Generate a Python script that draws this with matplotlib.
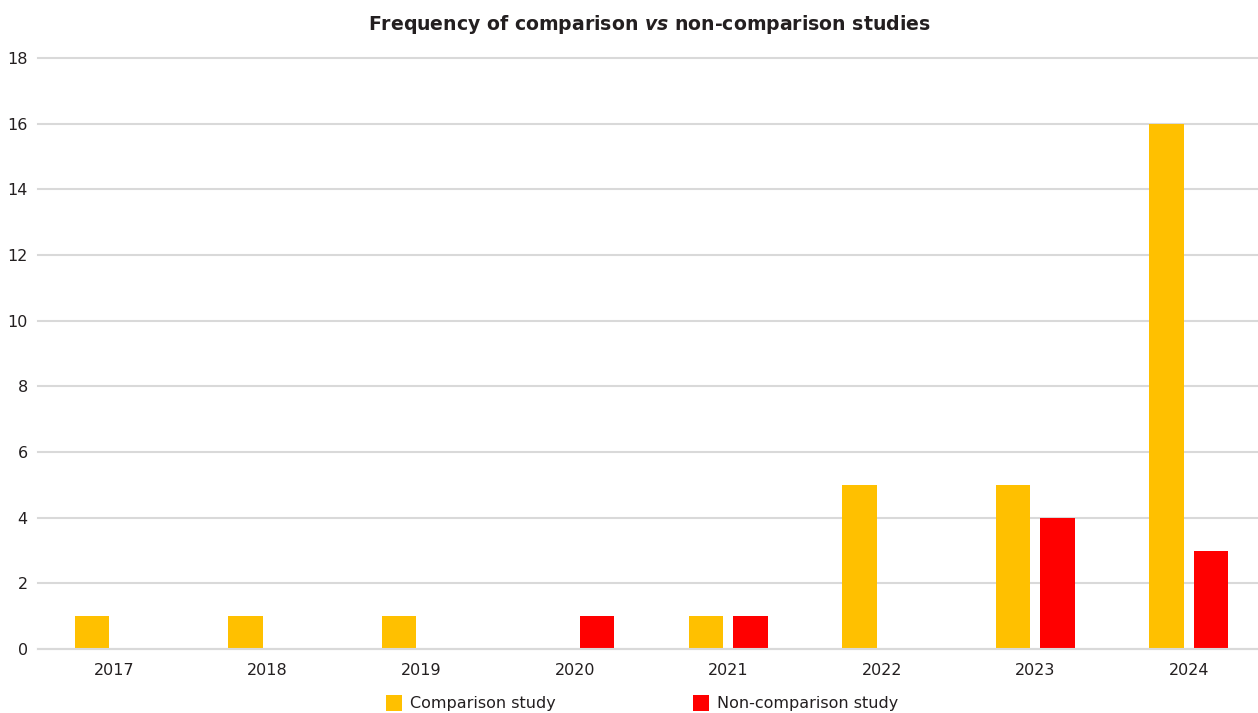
import matplotlib
matplotlib.use("Agg")
import matplotlib.pyplot as plt
import numpy as np

years = ["2017", "2018", "2019", "2020", "2021", "2022", "2023", "2024"]
comparison = [1, 1, 1, 0, 1, 5, 5, 16]
non_comparison = [0, 0, 0, 1, 1, 0, 4, 3]
series_labels = ["Comparison study", "Non-comparison study"]
y_ticks = [0, 2, 4, 6, 8, 10, 12, 14, 16, 18]

plt.rcParams["font.family"] = "DejaVu Sans"
plt.rcParams["mathtext.fontset"] = "custom"
plt.rcParams["mathtext.it"] = "DejaVu Sans:bold:italic"
plt.rcParams["mathtext.rm"] = "DejaVu Sans:bold"

W, H = 1258, 713
fig = plt.figure(figsize=(W / 100, H / 100), dpi=100)
# plot area runs slightly past the right edge of the canvas
ax = fig.add_axes([37.5 / W, 1 - 649 / H, (1265.5 - 37.5) / W, (649 - 58) / H])

text_color = "#231F20"
x = np.arange(len(years))
bw = 0.226
ax.bar(x - 0.145, comparison, width=bw, color="#FFC000", label=series_labels[0], zorder=3)
ax.bar(x + 0.145, non_comparison, width=bw, color="#FF0000", label=series_labels[1], zorder=3)

ax.set_xlim(-0.5, len(years) - 0.5)
ax.set_ylim(0, 18)
ax.set_yticks(y_ticks)
ax.set_xticks(x)
ax.set_xticklabels(years)
ax.yaxis.grid(True, color="#D9D9D9", linewidth=1.5, zorder=0)
for gl in ax.get_ygridlines():
    gl.set_clip_on(False)
ax.tick_params(axis="both", length=0, labelsize=11.5, colors=text_color)
ax.tick_params(axis="x", pad=10)
ax.tick_params(axis="y", pad=7)
for s in ["top", "right", "left"]:
    ax.spines[s].set_visible(False)
ax.spines["bottom"].set_color("#D9D9D9")
ax.spines["bottom"].set_linewidth(1.5)
ax.spines["bottom"].set_zorder(4)

fig.text(649 / W, 1 - 25 / H,
         r"Frequency of comparison $\it{vs}$ non-comparison studies",
         ha="center", va="center", fontsize=13.6, fontweight="bold", color=text_color)

leg = fig.legend(loc="center", bbox_to_anchor=(642 / W, 1 - 703 / H), ncol=2,
                 frameon=False, fontsize=11.5, handlelength=1.0, handleheight=1.2,
                 handletextpad=0.5, columnspacing=8.6, labelcolor=text_color)

fig.savefig("out.png", dpi=100)
